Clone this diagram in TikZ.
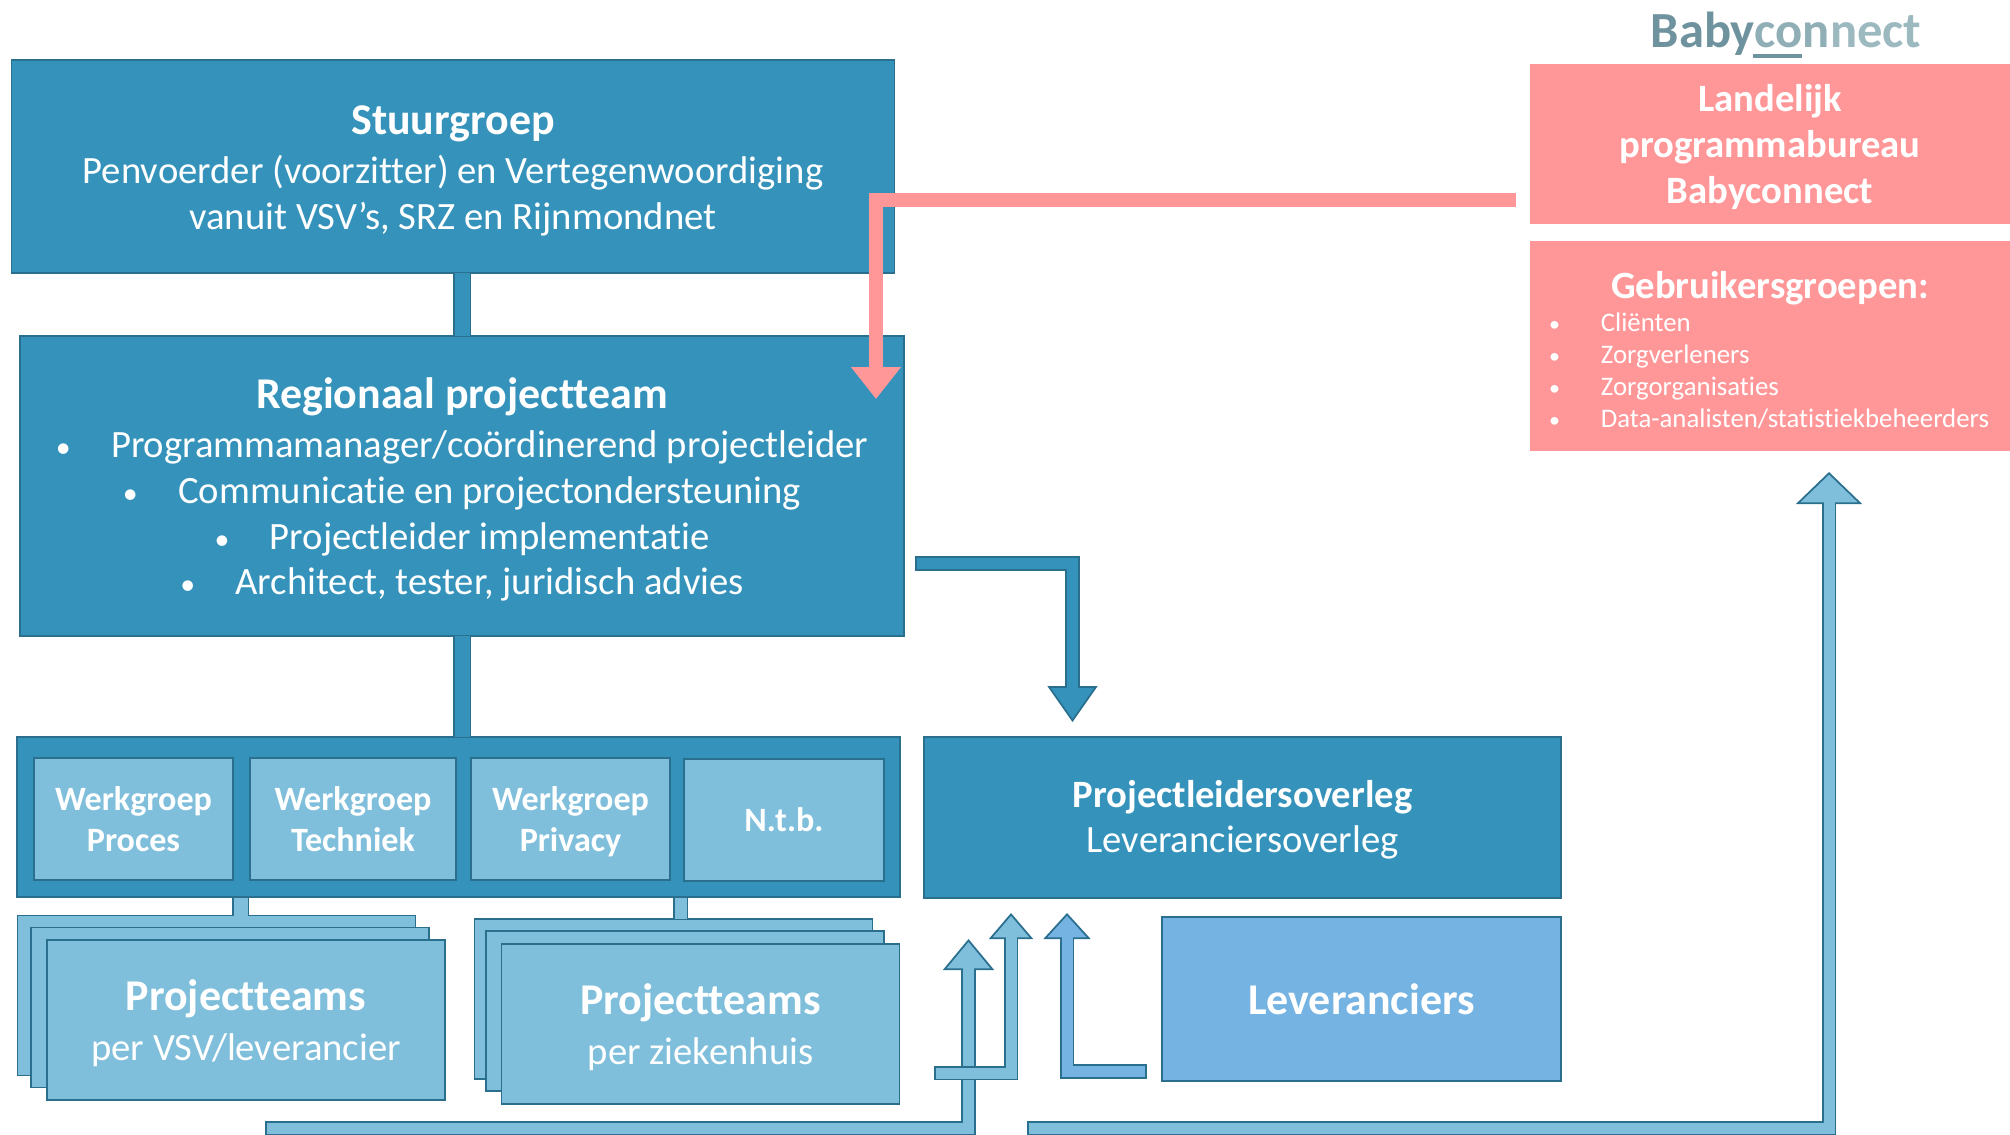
\documentclass[tikz,border=0pt]{standalone}
\usepackage{fontspec}
\setmainfont[Ligatures=NoCommon]{Carlito}
\usetikzlibrary{arrows.meta}

\definecolor{bardark}{HTML}{3593BB}
\definecolor{barlight}{HTML}{80BFDB}
\definecolor{barblue}{HTML}{75B3E3}
\definecolor{baredge}{HTML}{2A6F8E}
\definecolor{barpink}{HTML}{FF9799}
\definecolor{logodark}{HTML}{6F939E}
\definecolor{logolight}{HTML}{9DB9C0}

\tikzset{
  boxbase/.style={rectangle,inner sep=0pt,outer sep=0pt,align=center,text=white,
    font=\fontsize{22}{26}\selectfont},
  darkbox/.style={boxbase,fill=bardark,draw=baredge,line width=0.035cm},
  lightbox/.style={boxbase,fill=barlight,draw=baredge,line width=0.035cm},
  bluebox/.style={boxbase,fill=barblue,draw=baredge,line width=0.035cm},
  pinkbox/.style={boxbase,fill=barpink},
  groupbox/.style={lightbox,minimum height=2.44cm,
    font=\fontsize{19.4}{23}\selectfont\bfseries},
  teambox/.style={lightbox,minimum width=7.96cm,minimum height=3.2cm},
  barlink/.style 2 args={draw=baredge,line width=#2+0.06cm,
    postaction={draw=#1,line width=#2}},
  blockarrow/.style n args={3}{draw=baredge,line width=0.29cm,
    -{Triangle[color=baredge,fill=#1,length=#2,width=#3,line width=0.035cm]},
    postaction={draw=#1,line width=0.22cm,arrows=-,
      shorten <=0.035cm,shorten >=#2-0.09cm}},
  pinkarrow/.style={draw=barpink,line width=0.28cm,
    -{Triangle[length=0.64cm,width=0.96cm]}},
}
\newcommand{\headline}[1]{{\fontsize{25}{26}\selectfont\bfseries #1}}
\newcommand{\pinkline}[1]{{\fontsize{22}{26}\selectfont\bfseries #1}}
\newcommand{\headtop}{\rule{0pt}{21.5pt}}
\newcommand{\dotline}[1]{{\fontsize{17}{26}\selectfont\textbullet}\hspace{23pt}#1}
\newcommand{\smalldot}[1]{\makebox[29.5pt][l]{{\fontsize{12.5}{18}\selectfont\textbullet}}#1}

\begin{document}
\begin{tikzpicture}[x=0.02cm,y=-0.02cm]
  \useasboundingbox (0,0) rectangle (2010,1134);

  % left column
  \node[darkbox,minimum width=17.66cm,minimum height=4.26cm] (stuur) at (453,166.5)
    {\headtop\headline{Stuurgroep}\\[2pt]Penvoerder (voorzitter) en Vertegenwoordiging\\vanuit VSV’s, SRZ en Rijnmondnet};
  \node[darkbox,minimum width=17.68cm,minimum height=6cm] (regio) at (462,486)
    {\headtop\headline{Regionaal projectteam}\\[2pt]\dotline{Programmamanager/coördinerend projectleider}\\
     \dotline{Communicatie en projectondersteuning}\\
     \dotline{Projectleider implementatie}\\
     \dotline{Architect, tester, juridisch advies}};
  \node[darkbox,minimum width=17.66cm,minimum height=3.2cm] (werk) at (458.5,817) {};
  \node[groupbox,minimum width=3.98cm] (proces) at (133.5,819) {Werkgroep\\Proces};
  \node[groupbox,minimum width=4.12cm] (techniek) at (353,819) {Werkgroep\\Techniek};
  \node[groupbox,minimum width=3.98cm] (privacy) at (570.5,819) {Werkgroep\\\smash{Privacy}};
  \node[groupbox,minimum width=4cm] (ntb) at (784,820) {N.t.b.};

  \draw[barlink={bardark}{0.3cm}] (regio.north |- stuur.south) -- (regio.north);
  \draw[barlink={bardark}{0.3cm}] (regio.south) -- (regio.south |- werk.north);

  % projectteams
  \node[teambox] (vsvback) at (216.5,995.5) {};
  \node[teambox] (vsvmid) at (230,1007.5) {};
  \node[teambox] (vsv) at (246,1020) {\headtop\headline{Projectteams}\\[2.5pt]per VSV/leverancier};
  \node[teambox] (zhback) at (673.5,999) {};
  \node[teambox] (zhmid) at (685,1011) {};
  \node[teambox] (zh) at (700.5,1024) {\headtop\headline{Projectteams}\\[2.5pt]per ziekenhuis};

  \coordinate (linkvsv) at (240.5,898);
  \coordinate (linkzh) at (680.5,898);
  \draw[barlink={barlight}{0.28cm}] (linkvsv) -- (linkvsv |- vsvback.north);
  \draw[barlink={barlight}{0.24cm}] (linkzh) -- (linkzh |- zhback.north);

  % right column
  \node[darkbox,minimum width=12.74cm,minimum height=3.22cm] (overleg) at (1242.5,817.5)
    {\rule{0pt}{18pt}\pinkline{Projectleidersoverleg}\\Leveranciersoverleg};
  \node[bluebox,minimum width=7.98cm,minimum height=3.28cm] (lever) at (1361.5,999)
    {\headline{Leveranciers}};
  \node[pinkbox,minimum width=9.6cm,minimum height=3.2cm] (landelijk) at (1770,144)
    {\rule{0pt}{19pt}\pinkline{Landelijk}\\\pinkline{programmabureau}\\\pinkline{Babyconnect}};
  \node[pinkbox,minimum width=9.6cm,minimum height=4.2cm,text width=8.84cm,align=left,
    font=\fontsize{15.25}{18.2}\selectfont] (gebruik) at (1770,346)
    {\rule{0pt}{20pt}\makebox[\linewidth][c]{\pinkline{Gebruikersgroepen:}}\\[1pt]
     \smalldot{Cliënten}\\\smalldot{Zorgverleners}\\\smalldot{Zorgorganisaties}\\
     \smalldot{Data-analisten/statistiekbeheerders}};

  \node[font=\fontsize{28.8}{30}\selectfont\bfseries] (logo) at (1786,34)
    {\textcolor{logodark}{Baby}\textcolor{logolight!70!logodark}{con}\textcolor{logolight}{nect}};
  \draw[logodark,line width=0.08cm] (1753,56) -- (1802,56);

  % block arrows
  \coordinate (pinkstart) at (1516,200);
  \coordinate (pinktip) at (876,399);
  \coordinate (darkstart) at (915,563.5);
  \coordinate (darktip) at (1072.5,722);
  \coordinate (teamstart) at (265,1128);
  \coordinate (teamtip) at (968.5,939);
  \coordinate (zhstart) at (934,1073);
  \coordinate (zhtip) at (1011,913);
  \coordinate (leverstart) at (1147,1071.5);
  \coordinate (levertip) at (1067,913);
  \coordinate (userstart) at (1027,1128);
  \coordinate (usertip) at (1829,472);

  \draw[blockarrow={barlight}{0.62cm}{1.02cm}] (teamstart) -| (teamtip);
  \draw[blockarrow={barlight}{0.52cm}{0.88cm}] (zhstart) -| (zhtip);
  \draw[blockarrow={barblue}{0.52cm}{0.94cm}] (leverstart) -| (levertip);
  \draw[blockarrow={barlight}{0.64cm}{1.32cm}] (userstart) -| (usertip);
  \draw[blockarrow={bardark}{0.72cm}{1cm}] (darkstart) -| (darktip);
  \draw[pinkarrow] (pinkstart) -| (pinktip);
\end{tikzpicture}
\end{document}
